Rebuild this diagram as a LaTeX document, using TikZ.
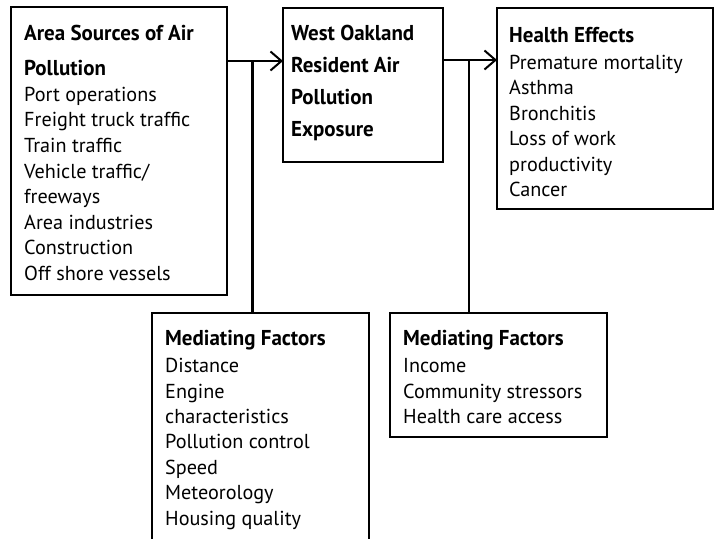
\documentclass[tikz,border=0pt]{standalone}
\usepackage{fontspec}
\setmainfont{PT Sans}
\newfontfamily\hdrfont[FakeStretch=0.975]{PT Sans}
\usetikzlibrary{arrows.meta}
\begin{document}
\begin{tikzpicture}[x=1pt,y=-1pt,
  boxst/.style={draw=black, line width=1.4pt, inner sep=0pt, outer sep=0pt, anchor=north west},
  hdr/.style={anchor=base west, inner sep=0pt, font=\hdrfont\bfseries\fontsize{21.5}{25}\selectfont},
  body/.style={anchor=base west, inner sep=0pt, font=\fontsize{20.2}{24}\selectfont},
  conn/.style={line width=2.3pt},
  arr/.style={conn, -{Straight Barb[length=11pt,width=19pt,line width=2pt]}}]
\useasboundingbox (0,0) rectangle (717,538);
\clip (0,0) rectangle (717,538);
% boxes
\node[boxst, minimum width=216pt, minimum height=288pt] (src) at (11,7) {};
\node[boxst, minimum width=160pt, minimum height=154pt] (expo) at (283,8) {};
\node[boxst, minimum width=216pt, minimum height=201pt] (health) at (497,8) {};
\node[boxst, minimum width=217pt, minimum height=260pt] (med1) at (152,313) {};
\node[boxst, minimum width=217pt, minimum height=124pt] (med2) at (390,313) {};
% box 1 text
\node[hdr] (src-h1) at (24,40.7) {Area Sources of Air};
\node[hdr] (src-h2) at (24,75.5) {Pollution};
\foreach \t [count=\i from 0] in {Port operations,Freight truck traffic,Train traffic,Vehicle traffic/,freeways,Area industries,Construction,Off shore vessels}
  \node[body] (src-\i) at (24,101.2+\i*25.6) {\t};
% box 2 text
\foreach \t [count=\i from 0] in {West Oakland,Resident Air,Pollution,Exposure}
  \node[hdr] (expo-\i) at (291,40+\i*32.3) {\t};
% box 3 text
\node[hdr] (health-h) at (509,42.3) {Health Effects};
\foreach \t [count=\i from 0] in {Premature mortality,Asthma,Bronchitis,Loss of work,productivity,Cancer}
  \node[body] (health-\i) at (509,69.5+\i*25.4) {\t};
% box 4 text
\node[hdr] (med1-h) at (165,345.5) {Mediating Factors};
\foreach \t [count=\i from 0] in {Distance,Engine,characteristics,Pollution control,Speed,Meteorology,Housing quality}
  \node[body] (med1-\i) at (165,372.7+\i*25.4) {\t};
% box 5 text
\node[hdr] (med2-h) at (403,345.5) {Mediating Factors};
\foreach \t [count=\i from 0] in {Income,Community stressors,Health care access}
  \node[body] (med2-\i) at (403,372.7+\i*25.3) {\t};
% connectors
\coordinate (j1) at (252.5,61);
\coordinate (j2) at (469,60);
\draw[arr] (src.east |- j1) -- (expo.west |- j1);
\draw[conn] (j1) -- (j1 |- med1.north);
\draw[arr] (expo.east |- j2) -- (health.west |- j2);
\draw[conn] (j2) -- (j2 |- med2.north);
\end{tikzpicture}
\end{document}
